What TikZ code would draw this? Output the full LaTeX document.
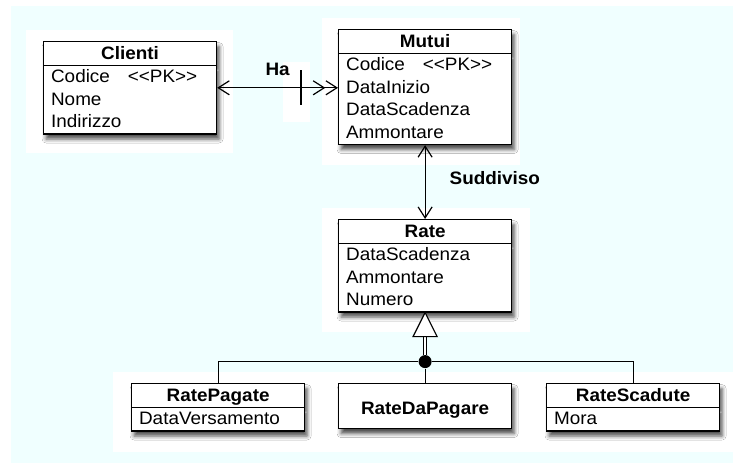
\documentclass[tikz,border=0pt]{standalone}
\usepackage{fontspec}
\setmainfont{Liberation Sans}[FakeStretch=1.05]
\usetikzlibrary{%
  arrows.meta,%
  shapes.multipart,% wg. rectangle split
  shadows.blur,%
  decorations.markings,%
  calc%
}
\definecolor{canvas}{RGB}{240,255,255}
\newcommand{\rowstrut}{\rule[-5.5pt]{0pt}{22.5pt}}
\newcommand{\clsname}[1]{\makebox[158pt]{\rowstrut\textbf{#1}}}
\newcommand{\pkmark}{<\kern0pt<PK>\kern0pt>}

\begin{document}
\begin{tikzpicture}
  [
  x=1pt, y=-1pt,
  font=\fontsize{18}{22.5}\selectfont, draw=black, line width=1.2pt,
  >={Straight Barb[length=11pt,width=14pt]},
  umlshadow/.style={blur shadow={shadow xshift=2.5pt, shadow yshift=-5pt, shadow blur radius=4pt, shadow opacity=70}},
  umlclass/.style={rectangle split, rectangle split parts=2, draw=black, fill=white, anchor=north west,
    text width=158pt, inner xsep=7.5pt, inner ysep=0pt, align=left, umlshadow},
  umlleaf/.style={rectangle, draw=black, fill=white, anchor=north west, minimum width=173pt, minimum height=45pt,
    inner sep=0pt, text height=17pt, text depth=0pt, font=\fontsize{18}{22.5}\selectfont\bfseries, umlshadow},
  assoclabel/.style={font=\fontsize{18}{22.5}\selectfont\bfseries, inner sep=0pt},
  joindot/.style={circle, fill=black, inner sep=0pt, minimum size=13pt},
  patch/.style={fill=white, draw=none}
  ]

\useasboundingbox (0,0) rectangle (733,463);
\fill[white] (0,0) rectangle (733,463);
\fill[canvas] (11,6) rectangle (733,463);

% white patches behind the boxes
\fill[patch] (26,30) rectangle (233,153);
\fill[patch] (283,62) rectangle (310,122);
\fill[patch] (322,18) rectangle (520,165);
\fill[patch] (322,208) rectangle (530,332);
\fill[patch] (113,372) rectangle (733,452);

\node[umlclass] (clienti) at (43,41) {\clsname{Clienti}
  \nodepart{two}\rowstrut Codice\hspace{18pt}\pkmark\\\rowstrut Nome\\\rowstrut Indirizzo};

\node[umlclass] (mutui) at (338,29) {\clsname{Mutui}
  \nodepart{two}\rowstrut Codice\hspace{18pt}\pkmark\\\rowstrut DataInizio\\\rowstrut DataScadenza\\\rowstrut Ammontare};

\node[umlclass] (rate) at (338,219) {\clsname{Rate}
  \nodepart{two}\rowstrut DataScadenza\\\rowstrut Ammontare\\\rowstrut Numero};

\node[umlclass] (ratepagate) at (131,383) {\clsname{RatePagate}
  \nodepart{two}\rowstrut DataVersamento};
\node[umlleaf] (ratedapagare) at (338,383) {RateDaPagare};
\node[umlclass] (ratescadute) at (546,383) {\clsname{RateScadute}
  \nodepart{two}\rowstrut Mora};

\draw[<->>, postaction={decorate, decoration={markings,
    mark=at position -37pt with {\draw[-] (0pt,-17pt) -- (0pt,18pt);}}}]
  (clienti.east) -- node[assoclabel, above=12pt] (ha) {Ha} (clienti.east -| mutui.west);

\draw[<->] (mutui.south) -- node[assoclabel, right=24pt, yshift=4pt] (suddiviso) {Suddiviso} (rate.north);

% generalization
\coordinate (genbase) at ($(rate.south)+(0,24)$);
\node[joindot] (join) at ($(rate.south)+(0,49)$) {};
\draw[line width=1pt, double, double distance=2.5pt] (join) -- (genbase);
\draw[fill=white] (rate.south) -- ($(genbase)+(12,0)$) -- ($(genbase)+(-12,0)$) -- cycle;
\draw (join) -- (ratedapagare.north);
\draw (join) -| (ratepagate.north);
\draw (join) -| (ratescadute.north);

\end{tikzpicture}
\end{document}
